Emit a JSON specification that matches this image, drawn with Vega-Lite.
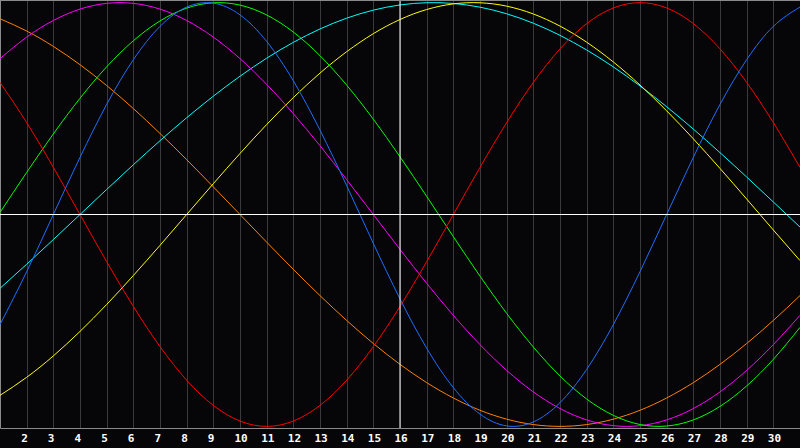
{
  "$schema": "https://vega.github.io/schema/vega-lite/v6.json",
  "width": 800,
  "height": 428,
  "autosize": {"type": "none"},
  "padding": {"left": 0, "top": 0, "right": 0, "bottom": 20},
  "background": "#060608",
  "config": {
    "view": {"stroke": null},
    "line": {"strokeWidth": 1, "interpolate": "natural"}
  },
  "data": {
    "values": [
      {"day": 1, "e28": 0.6235, "p23": -0.5196, "i33": 0.0095, "c38": 0.7357, "s53": -0.3483, "a43": -0.8535, "w48": 0.9239},
      {"day": 2, "e28": 0.4339, "p23": -0.2698, "i33": 0.1985, "c38": 0.8372, "s53": -0.2348, "a43": -0.7684, "w48": 0.866},
      {"day": 3, "e28": 0.2225, "p23": 0, "i33": 0.3804, "c38": 0.9158, "s53": -0.1182, "a43": -0.6674, "w48": 0.7934},
      {"day": 4, "e28": 0, "p23": 0.2698, "i33": 0.5487, "c38": 0.9694, "s53": 0, "a43": -0.5518, "w48": 0.7071},
      {"day": 5, "e28": -0.2225, "p23": 0.5196, "i33": 0.697, "c38": 0.9966, "s53": 0.1182, "a43": -0.4246, "w48": 0.6088},
      {"day": 6, "e28": -0.4339, "p23": 0.7308, "i33": 0.82, "c38": 0.9966, "s53": 0.2348, "a43": -0.288, "w48": 0.5},
      {"day": 7, "e28": -0.6235, "p23": 0.8879, "i33": 0.9135, "c38": 0.9694, "s53": 0.3483, "a43": -0.1456, "w48": 0.3827},
      {"day": 8, "e28": -0.7818, "p23": 0.9791, "i33": 0.974, "c38": 0.9158, "s53": 0.4567, "a43": 0, "w48": 0.2588},
      {"day": 9, "e28": -0.901, "p23": 0.9977, "i33": 0.9993, "c38": 0.8372, "s53": 0.5585, "a43": 0.1456, "w48": 0.1305},
      {"day": 10, "e28": -0.9749, "p23": 0.9423, "i33": 0.9884, "c38": 0.7357, "s53": 0.6527, "a43": 0.288, "w48": 0},
      {"day": 11, "e28": -1, "p23": 0.817, "i33": 0.9418, "c38": 0.6142, "s53": 0.7378, "a43": 0.4246, "w48": -0.1305},
      {"day": 12, "e28": -0.9749, "p23": 0.631, "i33": 0.8612, "c38": 0.4759, "s53": 0.8125, "a43": 0.5518, "w48": -0.2588},
      {"day": 13, "e28": -0.901, "p23": 0.3984, "i33": 0.7495, "c38": 0.3247, "s53": 0.8757, "a43": 0.6674, "w48": -0.3827},
      {"day": 14, "e28": -0.7818, "p23": 0.1362, "i33": 0.6106, "c38": 0.1646, "s53": 0.9267, "a43": 0.7684, "w48": -0.5},
      {"day": 15, "e28": -0.6235, "p23": -0.1362, "i33": 0.4497, "c38": 0, "s53": 0.9646, "a43": 0.8535, "w48": -0.6088},
      {"day": 16, "e28": -0.4339, "p23": -0.3984, "i33": 0.2725, "c38": -0.1646, "s53": 0.989, "a43": 0.9204, "w48": -0.7071},
      {"day": 17, "e28": -0.2225, "p23": -0.631, "i33": 0.0856, "c38": -0.3247, "s53": 0.9996, "a43": 0.9675, "w48": -0.7934},
      {"day": 18, "e28": 0, "p23": -0.817, "i33": -0.1045, "c38": -0.4759, "s53": 0.9961, "a43": 0.994, "w48": -0.866},
      {"day": 19, "e28": 0.2225, "p23": -0.9423, "i33": -0.2908, "c38": -0.6142, "s53": 0.9786, "a43": 0.9993, "w48": -0.9239},
      {"day": 20, "e28": 0.4339, "p23": -0.9977, "i33": -0.4667, "c38": -0.7357, "s53": 0.9473, "a43": 0.9834, "w48": -0.9659},
      {"day": 21, "e28": 0.6235, "p23": -0.9791, "i33": -0.6255, "c38": -0.8372, "s53": 0.9028, "a43": 0.9464, "w48": -0.9914},
      {"day": 22, "e28": 0.7818, "p23": -0.8879, "i33": -0.762, "c38": -0.9158, "s53": 0.8456, "a43": 0.8893, "w48": -1},
      {"day": 23, "e28": 0.901, "p23": -0.7308, "i33": -0.8708, "c38": -0.9694, "s53": 0.7765, "a43": 0.8133, "w48": -0.9914},
      {"day": 24, "e28": 0.9749, "p23": -0.5196, "i33": -0.948, "c38": -0.9966, "s53": 0.6966, "a43": 0.7199, "w48": -0.9659},
      {"day": 25, "e28": 1, "p23": -0.2698, "i33": -0.9911, "c38": -0.9966, "s53": 0.6068, "a43": 0.6111, "w48": -0.9239},
      {"day": 26, "e28": 0.9749, "p23": 0, "i33": -0.9984, "c38": -0.9694, "s53": 0.5086, "a43": 0.4893, "w48": -0.866},
      {"day": 27, "e28": 0.901, "p23": 0.2698, "i33": -0.9695, "c38": -0.9158, "s53": 0.4031, "a43": 0.3572, "w48": -0.7934},
      {"day": 28, "e28": 0.7818, "p23": 0.5196, "i33": -0.9056, "c38": -0.8372, "s53": 0.292, "a43": 0.2174, "w48": -0.7071},
      {"day": 29, "e28": 0.6235, "p23": 0.7308, "i33": -0.809, "c38": -0.7357, "s53": 0.1769, "a43": 0.0731, "w48": -0.6088},
      {"day": 30, "e28": 0.4339, "p23": 0.8879, "i33": -0.6835, "c38": -0.6142, "s53": 0.0592, "a43": -0.0731, "w48": -0.5},
      {"day": 31, "e28": 0.2225, "p23": 0.9791, "i33": -0.5327, "c38": -0.4759, "s53": -0.0592, "a43": -0.2174, "w48": -0.3827}
    ]
  },
  "encoding": {
    "x": {
      "field": "day",
      "type": "quantitative",
      "scale": {"domain": [1, 31], "nice": false, "zero": false},
      "axis": {
        "title": null,
        "values": [2, 3, 4, 5, 6, 7, 8, 9, 10, 11, 12, 13, 14, 15, 16, 17, 18, 19, 20, 21, 22, 23, 24, 25, 26, 27, 28, 29, 30],
        "grid": true,
        "gridColor": "#3a3a3a",
        "gridOpacity": 1,
        "ticks": false,
        "domainColor": "#8a8a8a",
        "labelColor": "#ffffff",
        "labelFont": "DejaVu Sans Mono",
        "labelFontWeight": "bold",
        "labelFontSize": 11,
        "labelAlign": "left",
        "labelBaseline": "top",
        "labelOffset": -6,
        "labelPadding": 4,
        "labelFlush": false,
        "labelOverlap": false
      }
    }
  },
  "layer": [
    {
      "mark": {"type": "line", "color": "#ff8000"},
      "encoding": {
        "y": {
          "field": "w48",
          "type": "quantitative",
          "scale": {"domain": [-1.0076, 1.0124], "nice": false, "zero": false},
          "axis": {"title": null, "labels": false, "ticks": false, "grid": false, "domainColor": "#8a8a8a"}
        }
      }
    },
    {
      "mark": {"type": "line", "color": "#00ffff"},
      "encoding": {"y": {"field": "s53", "type": "quantitative"}}
    },
    {
      "mark": {"type": "line", "color": "#ffff00"},
      "encoding": {"y": {"field": "a43", "type": "quantitative"}}
    },
    {
      "mark": {"type": "line", "color": "#ff00ff"},
      "encoding": {"y": {"field": "c38", "type": "quantitative"}}
    },
    {
      "mark": {"type": "line", "color": "#00ff00"},
      "encoding": {"y": {"field": "i33", "type": "quantitative"}}
    },
    {
      "mark": {"type": "line", "color": "#ff0000"},
      "encoding": {"y": {"field": "e28", "type": "quantitative"}}
    },
    {
      "mark": {"type": "line", "color": "#1e6eff"},
      "encoding": {"y": {"field": "p23", "type": "quantitative"}}
    },
    {
      "data": {"values": [{"day": 1, "end": 31, "v": 0}]},
      "mark": {"type": "rule", "color": "#ffffff", "strokeWidth": 1},
      "encoding": {
        "x2": {"field": "end"},
        "y": {"field": "v", "type": "quantitative"}
      }
    },
    {
      "data": {"values": [{"day": 16}]},
      "mark": {"type": "rule", "color": "#ffffff", "strokeWidth": 1},
      "encoding": {}
    },
    {
      "data": {"values": [{"day": 1, "end": 31, "v": 1.0124}]},
      "mark": {"type": "rule", "color": "#8a8a8a", "strokeWidth": 2},
      "encoding": {
        "x2": {"field": "end"},
        "y": {"field": "v", "type": "quantitative"}
      }
    }
  ]
}
